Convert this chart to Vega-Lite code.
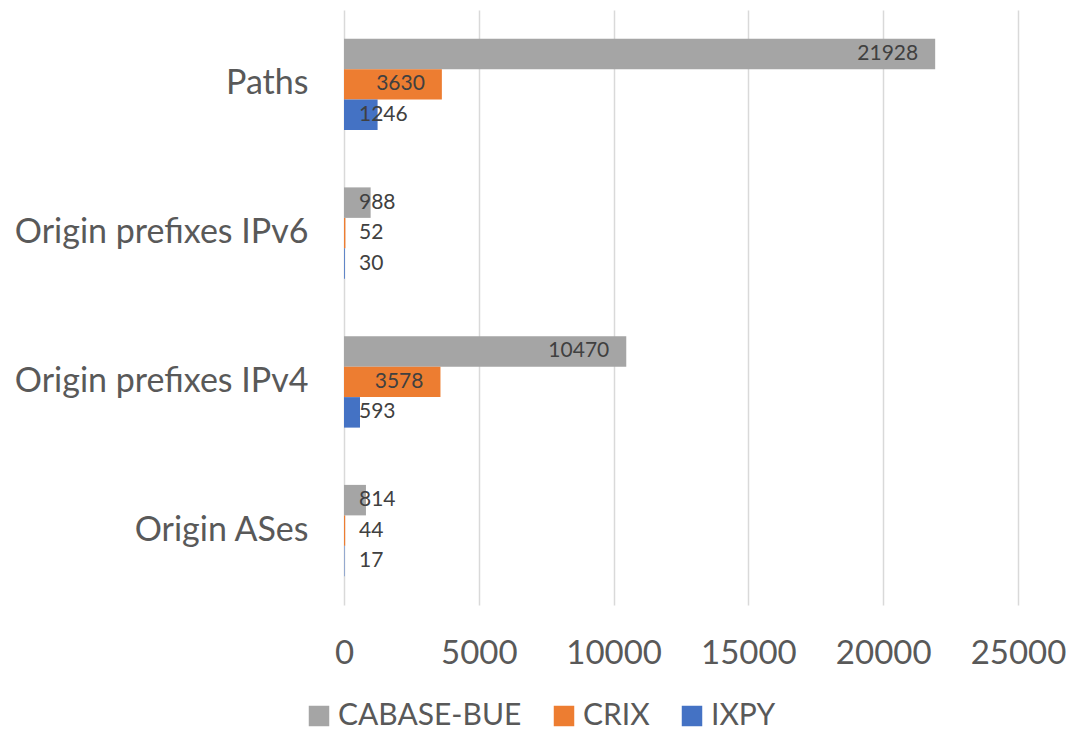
{
  "$schema": "https://vega.github.io/schema/vega-lite/v6.json",
  "width": 674,
  "height": 595,
  "autosize": {"type": "none"},
  "padding": {"left": 344, "top": 10, "right": 48, "bottom": 128},
  "background": "white",
  "config": {"view": {"stroke": null}, "font": "Lato"},
  "data": {
    "values": [
      {"cat": "Paths", "series": "CABASE-BUE", "value": 21928},
      {"cat": "Paths", "series": "CRIX", "value": 3630},
      {"cat": "Paths", "series": "IXPY", "value": 1246},
      {"cat": "Origin prefixes IPv6", "series": "CABASE-BUE", "value": 988},
      {"cat": "Origin prefixes IPv6", "series": "CRIX", "value": 52},
      {"cat": "Origin prefixes IPv6", "series": "IXPY", "value": 30},
      {"cat": "Origin prefixes IPv4", "series": "CABASE-BUE", "value": 10470},
      {"cat": "Origin prefixes IPv4", "series": "CRIX", "value": 3578},
      {"cat": "Origin prefixes IPv4", "series": "IXPY", "value": 593},
      {"cat": "Origin ASes", "series": "CABASE-BUE", "value": 814},
      {"cat": "Origin ASes", "series": "CRIX", "value": 44},
      {"cat": "Origin ASes", "series": "IXPY", "value": 17}
    ]
  },
  "encoding": {
    "y": {
      "field": "cat",
      "type": "nominal",
      "sort": ["Paths", "Origin prefixes IPv6", "Origin prefixes IPv4", "Origin ASes"],
      "scale": {"paddingInner": 0.385, "paddingOuter": 0.1925},
      "title": null,
      "axis": {
        "grid": false,
        "domain": false,
        "ticks": false,
        "labelFontSize": 34,
        "labelColor": "#595959",
        "labelPadding": 36,
        "labelLimit": 0
      }
    },
    "yOffset": {
      "field": "series",
      "type": "nominal",
      "sort": ["CABASE-BUE", "CRIX", "IXPY"],
      "scale": {"paddingInner": 0, "paddingOuter": 0}
    }
  },
  "layer": [
    {
      "mark": {"type": "bar"},
      "encoding": {
        "x": {
          "field": "value",
          "type": "quantitative",
          "scale": {"domain": [0, 25000], "nice": false},
          "title": null,
          "axis": {
            "values": [0, 5000, 10000, 15000, 20000, 25000],
            "format": "d",
            "grid": true,
            "gridColor": "#D9D9D9",
            "gridWidth": 1.5,
            "domain": false,
            "ticks": false,
            "labelOverlap": false,
            "labelFlush": false,
            "labelFontSize": 33,
            "labelColor": "#595959",
            "labelPadding": 32
          }
        },
        "color": {
          "field": "series",
          "type": "nominal",
          "sort": ["CABASE-BUE", "CRIX", "IXPY"],
          "scale": {"domain": ["CABASE-BUE", "CRIX", "IXPY"], "range": ["#A5A5A5", "#ED7D31", "#4472C4"]},
          "legend": {
            "orient": "none",
            "legendX": -40,
            "legendY": 691,
            "direction": "horizontal",
            "title": null,
            "symbolType": "square",
            "symbolSize": 420,
            "symbolStrokeWidth": 0,
            "labelFontSize": 30,
            "labelLimit": 0,
            "labelColor": "#595959",
            "labelOffset": 4,
            "columnPadding": 27,
            "padding": 0
          }
        }
      }
    },
    {
      "transform": [{"filter": "datum.value >= 3000"}],
      "mark": {"type": "text", "align": "right", "baseline": "middle", "dx": -17, "fontSize": 21, "color": "#404040"},
      "encoding": {
        "x": {"field": "value", "type": "quantitative"},
        "text": {"field": "value", "type": "quantitative", "format": "d"}
      }
    },
    {
      "transform": [{"filter": "datum.value < 3000"}],
      "mark": {"type": "text", "align": "left", "baseline": "middle", "dx": 15, "fontSize": 21, "color": "#404040"},
      "encoding": {
        "x": {"datum": 0, "type": "quantitative"},
        "text": {"field": "value", "type": "quantitative", "format": "d"}
      }
    }
  ]
}
